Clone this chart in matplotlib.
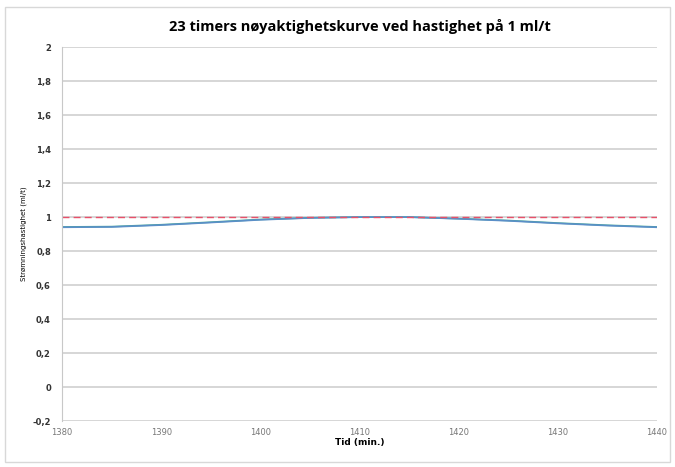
import matplotlib.pyplot as plt
import numpy as np

# data
tid = [1380, 1385, 1390, 1395, 1400, 1405, 1410, 1415, 1420, 1425, 1430, 1435, 1440]
flow_blue = [0.94, 0.942, 0.953, 0.968, 0.984, 0.995, 1.0, 1.0, 0.99, 0.978, 0.963, 0.95, 0.94]
flow_green = [0.942, 0.944, 0.955, 0.97, 0.986, 0.996, 1.0, 1.0, 0.991, 0.98, 0.965, 0.952, 0.942]
target = [1.0, 1.0]
target_x = [1380, 1440]

yticks = np.round(np.arange(-0.2, 2.01, 0.2), 1)
xticks = [1380, 1390, 1400, 1410, 1420, 1430, 1440]

fig = plt.figure(figsize=(6.75, 4.67), dpi=100)
fig.patch.set_facecolor("white")
ax = fig.add_axes([0.092, 0.0985, 0.881, 0.8005])

ax.plot(tid, flow_green, color="#4aa89a", linewidth=1.2)
ax.plot(tid, flow_blue, color="#5b8fc8", linewidth=1.2)
ax.plot(target_x, target, color="#e8506a", linewidth=1.0, linestyle=(0, (5, 3)))

ax.set_xlim(1380, 1440)
ax.set_ylim(-0.2, 2.0)
ax.set_yticks(yticks)
ax.set_yticklabels([("%g" % v).replace(".", ",") for v in yticks],
                   fontsize=6, fontweight="bold", color="#333333")
ax.set_xticks(xticks)
ax.set_xticklabels([str(v) for v in xticks], fontsize=6, color="#777777")
ax.tick_params(axis="y", length=0, pad=8)
ax.tick_params(axis="x", length=0, pad=5)

ax.grid(axis="y", color="#d0d0d0", linewidth=1.2)
ax.set_axisbelow(True)
for s in ["top", "right", "bottom"]:
    ax.spines[s].set_visible(False)
ax.spines["left"].set_color("#c8c8c8")

ax.set_title("23 timers nøyaktighetskurve ved hastighet på 1 ml/t",
             fontsize=10.5, fontweight="bold", pad=12, family="Open Sans")
ax.set_xlabel("Tid (min.)", fontsize=6.5, fontweight="bold", labelpad=1)
ax.set_ylabel("Strømningshastighet (ml/t)", fontsize=5, labelpad=4)

border = plt.Rectangle((0.008, 0.01), 0.985, 0.975, transform=fig.transFigure,
                       fill=False, edgecolor="#d8d8d8", linewidth=1.0)
fig.patches.append(border)

fig.savefig("out.png", dpi=100)
